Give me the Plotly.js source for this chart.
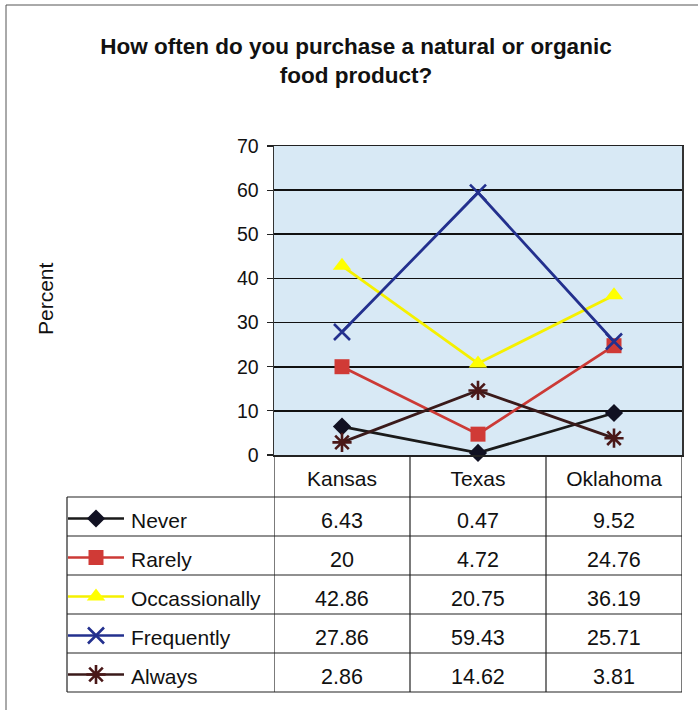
<!DOCTYPE html>
<html><head><meta charset="utf-8">
<script src="https://cdn.plot.ly/plotly-3.0.1.min.js"></script>
<style>html,body{margin:0;padding:0;background:#fff}</style>
</head><body><div id="chart" style="width:698px;height:710px"></div>
<script>
// ---- data ----
const categories = ['Kansas', 'Texas', 'Oklahoma'];
const seriesNames = ['Never', 'Rarely', 'Occassionally', 'Frequently', 'Always'];
const never = [6.43, 0.47, 9.52];
const rarely = [20, 4.72, 24.76];
const occasionally = [42.86, 20.75, 36.19];
const frequently = [27.86, 59.43, 25.71];
const always = [2.86, 14.62, 3.81];
const yTickVals = [0, 10, 20, 30, 40, 50, 60, 70];
const titleText = 'How often do you purchase a natural or organic<br>food product?';
const yTitle = 'Percent';

// ---- styles / layout constants ----
const W = 698, H = 710;
const FONT = 'Liberation Sans, Arial, sans-serif';
const styles = [
  {color: '#111122', lineColor: '#1a1a1a', symbol: 'diamond', size: 14, mline: 0},
  {color: '#d03a36', lineColor: '#cc3a36', symbol: 'square', size: 15, mline: 0},
  {color: '#ffff00', lineColor: '#f5f000', symbol: 'triangle-up', size: 16, mline: 0},
  {color: '#23308e', lineColor: '#23308e', symbol: 'x-thin-open', size: 16, mline: 2.6},
  {color: '#4a1818', lineColor: '#3a1a1a', symbol: 'asterisk-open', size: 16, mline: 2.6}
];
const seriesValues = [never, rarely, occasionally, frequently, always];

const plotL = 274, plotR = 682, plotT = 146, plotB = 455;
const tableL = 67;
const rowTops = [497, 536, 575, 614, 653, 692];
const legLineX = [68, 124], legMarkX = 96, legTextX = 129;
const cellFont = 21.5, legFont = 21;

const traces = [];
seriesValues.forEach((vals, i) => {
  const s = styles[i];
  traces.push({
    type: 'scatter', mode: 'lines+markers', name: seriesNames[i],
    x: categories, y: vals, xaxis: 'x', yaxis: 'y', cliponaxis: false,
    line: {color: s.lineColor, width: 2.8},
    marker: {symbol: s.symbol, size: s.size, color: s.color,
             line: {color: s.color, width: s.mline}}
  });
  const yc = (rowTops[i] + rowTops[i + 1]) / 2 + 2;
  traces.push({
    type: 'scatter', mode: 'lines', x: legLineX, y: [yc, yc],
    xaxis: 'x2', yaxis: 'y2', line: {color: s.lineColor, width: 2.6}
  });
  traces.push({
    type: 'scatter', mode: 'markers', x: [legMarkX], y: [yc],
    xaxis: 'x2', yaxis: 'y2', cliponaxis: false,
    marker: {symbol: s.symbol, size: s.size, color: s.color,
             line: {color: s.color, width: s.mline}}
  });
});

const shapes = [];
// plot background
shapes.push({type: 'rect', xref: 'x domain', yref: 'y domain', x0: 0, x1: 1, y0: 0, y1: 1,
  fillcolor: '#d8e9f5', line: {width: 0}, layer: 'below'});
// outer frame (left & top)
shapes.push({type: 'line', xref: 'x2', yref: 'y2', x0: 6, x1: 6, y0: 5, y1: H, line: {color: '#555', width: 1}});
shapes.push({type: 'line', xref: 'x2', yref: 'y2', x0: 6, x1: W, y0: 5, y1: 5, line: {color: '#555', width: 1}});
// table horizontal lines
rowTops.forEach(y => shapes.push({type: 'line', xref: 'x2', yref: 'y2', x0: tableL, x1: plotR, y0: y, y1: y,
  line: {color: '#222', width: 1.2}}));
// table left edge
shapes.push({type: 'line', xref: 'x2', yref: 'y2', x0: tableL, x1: tableL, y0: rowTops[0], y1: rowTops[rowTops.length - 1],
  line: {color: '#222', width: 1.2}});
// column separators (category boundaries)
for (let k = 0; k <= categories.length; k++) {
  shapes.push({type: 'line', xref: 'x', yref: 'y2', x0: k - 0.5, x1: k - 0.5, y0: plotB, y1: rowTops[rowTops.length - 1],
    line: {color: '#222', width: 1.2}});
}

const annotations = [];
annotations.push({xref: 'x2', yref: 'y2', x: 45, y: 299, text: yTitle, textangle: -90, showarrow: false,
  font: {family: FONT, size: 21, color: '#111'}});
seriesNames.forEach((nm, i) => {
  const yc = (rowTops[i] + rowTops[i + 1]) / 2 + 4;
  annotations.push({xref: 'x2', yref: 'y2', x: legTextX, y: yc, xanchor: 'left', yanchor: 'middle',
    text: nm, showarrow: false, font: {family: FONT, size: legFont, color: '#111'}});
  categories.forEach((c, j) => {
    annotations.push({xref: 'x', yref: 'y2', x: c, y: yc, xanchor: 'center', yanchor: 'middle',
      text: String(seriesValues[i][j]), showarrow: false, font: {family: FONT, size: cellFont, color: '#111'}});
  });
});

const layout = {
  width: W, height: H, margin: {l: 0, r: 0, t: 0, b: 0},
  paper_bgcolor: '#ffffff', plot_bgcolor: 'rgba(0,0,0,0)', showlegend: false,
  font: {family: FONT, color: '#111'},
  title: {text: titleText, x: 356 / W, xanchor: 'center', y: 1 - 54 / H, yanchor: 'middle',
    font: {family: FONT, size: 22.5, weight: 'bold', color: '#111'}},
  xaxis: {domain: [plotL / W, plotR / W], type: 'category', range: [-0.5, 2.5],
    showgrid: false, zeroline: false, ticks: '', showline: true, mirror: true,
    linecolor: '#222', linewidth: 1.5, tickfont: {family: FONT, size: 21, color: '#111'},
    ticklabelstandoff: 4, anchor: 'y', fixedrange: true},
  yaxis: {domain: [1 - plotB / H, 1 - plotT / H], range: [0, 70], tickvals: yTickVals,
    showgrid: true, gridcolor: '#111', gridwidth: 1.6, zeroline: false,
    ticks: 'outside', ticklen: 6, tickcolor: '#222', tickwidth: 1.2, showline: true, mirror: true,
    linecolor: '#333', linewidth: 1.5, tickfont: {family: FONT, size: 19.5, color: '#111'},
    ticklabelstandoff: 4, anchor: 'x', fixedrange: true},
  xaxis2: {domain: [0, 1], range: [0, W], visible: false, anchor: 'y2', fixedrange: true},
  yaxis2: {domain: [0, 1], range: [H, 0], visible: false, anchor: 'x2', fixedrange: true},
  shapes: shapes, annotations: annotations
};

Plotly.newPlot('chart', traces, layout, {staticPlot: true, displayModeBar: false});
</script></body></html>
